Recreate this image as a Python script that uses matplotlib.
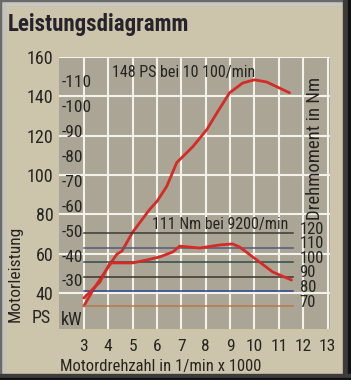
import matplotlib
matplotlib.use("Agg")
import matplotlib.pyplot as plt
from matplotlib import font_manager
from matplotlib.patches import Rectangle

# ---------------- data ----------------
rpm_power = [3.0, 3.4, 3.86, 4.35, 4.56, 5.0, 5.7, 6.0, 6.4, 6.81, 7.47, 8.04, 8.49, 8.98, 9.52, 10.0, 10.5, 11.44]
power_ps = [33.4, 42.0, 50.6, 59.7, 61.3, 70.9, 82.5, 86.6, 94.2, 106.3, 114.4, 123.0, 132.2, 141.8, 146.8, 148.4, 147.3, 141.8]

rpm_torque = [3.0, 3.66, 4.07, 4.56, 5.0, 5.58, 6.11, 6.65, 6.93, 7.75, 8.57, 9.1, 9.39, 9.93, 10.75, 11.52]
torque_nm = [75.5, 86.4, 99.5, 99.5, 99.5, 101.5, 103.6, 107.0, 111.0, 109.7, 111.8, 112.5, 110.4, 103.6, 93.3, 87.8]

x_ticks = [3, 4, 5, 6, 7, 8, 9, 10, 11, 12, 13]
ps_ticks = [40, 60, 80, 100, 120, 140, 160]
kw_labels = [30, 40, 50, 60, 70, 80, 90, 100, 110]
nm_levels = [70, 80, 90, 100, 110, 120]
nm_colors = ['#b8784a', '#2c4690', '#3a3632', '#2f4c4a', '#565a78', '#3c3b36']

title = "Leistungsdiagramm"
xlabel = "Motordrehzahl in 1/min x 1000"
ylabel_left = "Motorleistung"
ylabel_right = "Drehmoment in Nm"
note_power = "148 PS bei 10 100/min"
note_torque = "111 Nm bei 9200/min"

# ---------------- fonts ----------------
def pick(*names):
    for n in names:
        try:
            font_manager.findfont(font_manager.FontProperties(family=n), fallback_to_default=False)
            return n
        except Exception:
            continue
    return 'DejaVu Sans'

FONT = pick('Liberation Sans Narrow', 'DejaVu Sans Condensed', 'Roboto Condensed', 'Liberation Sans')
plt.rcParams['font.family'] = [FONT, 'DejaVu Sans']

W, H = 351, 380
BG = '#cdc5ab'
FACE = '#aaa595'
GRID = '#f2f1ea'
RED = '#d62a26'
TXT = '#262422'

fig = plt.figure(figsize=(W / 100, H / 100), dpi=100)
fig.patch.set_facecolor(BG)

L, R, T, B = 59, 330, 57, 329
ax = fig.add_axes([L / W, 1 - B / H, (R - L) / W, (B - T) / H])
ax.set_facecolor(FACE)
ax.set_xlim(1.98, 13.1)
ax.set_ylim(21.7, 160)
for s in ax.spines.values():
    s.set_visible(False)

ax.set_xticks(x_ticks)
ax.set_yticks(ps_ticks)
ax.set_xticklabels([str(v) for v in x_ticks])
ax.set_yticklabels([str(v) for v in ps_ticks])
ax.tick_params(length=0, labelsize=13, colors=TXT)
ax.tick_params(axis='x', pad=7, labelsize=12.5)
ax.tick_params(axis='y', pad=4)
ax.grid(True, color=GRID, lw=1.5)
ax.set_axisbelow(True)

# power curve
ax.plot(rpm_power, power_ps, color=RED, lw=2.0, solid_capstyle='round', zorder=5)

# torque axis
ax2 = ax.twinx()
ax2.set_ylim(54.25, 240.5)
ax2.set_xlim(ax.get_xlim())
ax2.axis('off')
for lvl, c in zip(nm_levels, nm_colors):
    ax2.plot([3, 11.57], [lvl, lvl], color=c, lw=1.1, zorder=3)
    ax2.text(11.85, lvl + 2.6, str(lvl), ha='left', va='center', fontsize=12, color=TXT)
ax2.plot(rpm_torque, torque_nm, color=RED, lw=2.0, solid_capstyle='round', zorder=5)
ax2.text(5.8, 125.5, note_torque, ha='left', va='center', fontsize=11.5, color=TXT)

# kW labels
ax3 = ax.twinx()
ax3.set_ylim(11.1, 120.45)
ax3.set_xlim(ax.get_xlim())
ax3.axis('off')
for v in kw_labels:
    ax3.text(2.07, v, '-' + str(v), ha='left', va='center', fontsize=12.5, color=TXT)
ax.text(2.07, 26.5, 'kW', ha='left', va='center', fontsize=13, color=TXT)

ax.text(4.15, 151.9, note_power, ha='left', va='center', fontsize=11.5, color=TXT)

# figure texts
fig.text(51 / W, 1 - 318 / H, 'PS', ha='right', va='center', fontsize=13, color=TXT)
fig.text(8 / W, 1 - 25 / H, title, ha='left', va='center', fontsize=16.5, fontweight='bold', color='#26242a')
fig.text(60 / W, 1 - 366 / H, xlabel, ha='left', va='center', fontsize=12, color=TXT)
fig.text(15 / W, 1 - 274 / H, ylabel_left, ha='center', va='center', rotation=90, fontsize=12.5, color=TXT)
fig.text(315 / W, 1 - 148 / H, ylabel_right, ha='center', va='center', rotation=90, fontsize=13.5, color=TXT)

# bevel frame
def rect(x0, y0, w, h, c):
    fig.patches.append(Rectangle((x0 / W, 1 - (y0 + h) / H), w / W, h / H,
                                 transform=fig.transFigure, color=c, zorder=10))

rect(0, 0, W, 5, '#c6c6c2')
rect(0, 0, 5, H, '#c2c2be')
rect(0, 0, W, 1, '#6a6a66')
rect(0, 0, 1, H, '#6a6a66')
rect(W - 8, 0, 8, H, '#3c3c3a')
rect(W - 3, 0, 3, H, '#111111')
rect(0, H - 6, W, 6, '#3c3c3a')
rect(0, H - 2, W, 2, '#111111')

fig.savefig('out.png', dpi=100, facecolor=BG)
